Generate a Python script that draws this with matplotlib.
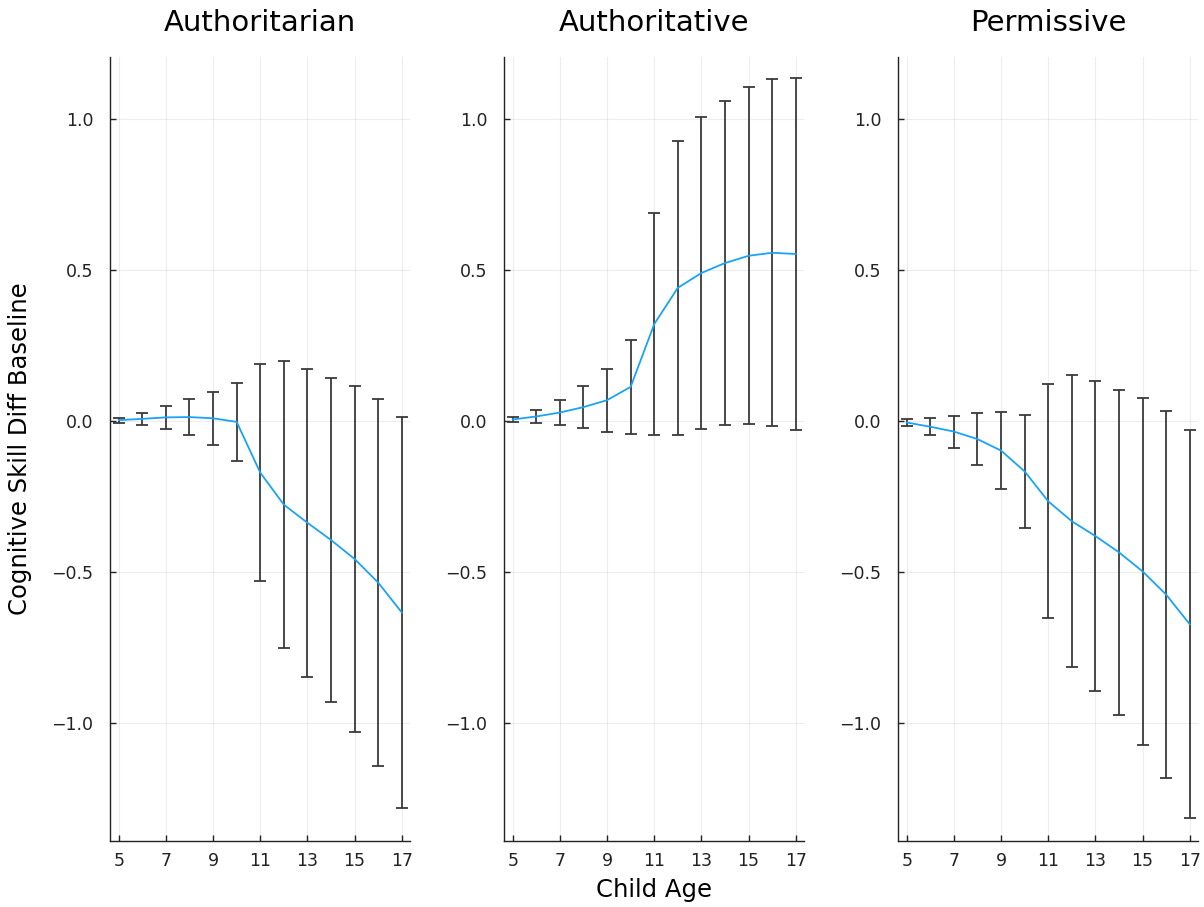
import matplotlib
matplotlib.use('Agg')
import matplotlib.pyplot as plt
import numpy as np

# child ages on the x axis
ages = [5, 6, 7, 8, 9, 10, 11, 12, 13, 14, 15, 16, 17]

titles = ['Authoritarian', 'Authoritative', 'Permissive']

# mean difference from baseline
authoritarian_mean = [0.002, 0.006, 0.011, 0.012, 0.008, -0.004, -0.172, -0.278, -0.338, -0.395, -0.458, -0.536, -0.635]
authoritative_mean = [0.004, 0.014, 0.027, 0.045, 0.068, 0.112, 0.32, 0.44, 0.489, 0.522, 0.546, 0.556, 0.552]
permissive_mean = [-0.006, -0.02, -0.036, -0.061, -0.099, -0.168, -0.267, -0.333, -0.382, -0.436, -0.499, -0.576, -0.674]

# half width of the error bars
authoritarian_err = [0.008, 0.021, 0.039, 0.06, 0.088, 0.13, 0.36, 0.475, 0.509, 0.536, 0.574, 0.608, 0.648]
authoritative_err = [0.008, 0.022, 0.042, 0.069, 0.104, 0.155, 0.368, 0.486, 0.516, 0.535, 0.558, 0.575, 0.582]
permissive_err = [0.01, 0.029, 0.053, 0.085, 0.128, 0.188, 0.387, 0.483, 0.512, 0.538, 0.574, 0.607, 0.642]

means = [authoritarian_mean, authoritative_mean, permissive_mean]
errs = [authoritarian_err, authoritative_err, permissive_err]

fig = plt.figure(figsize=(12.04, 9.07), dpi=100)
lefts = [110 / 1204, 504 / 1204, 898 / 1204]
axes = [fig.add_axes([l, 0.0733, 0.2492, 0.8638]) for l in lefts]

for ax, title, m, e in zip(axes, titles, means, errs):
    ax.errorbar(ages, m, yerr=e, fmt='none', ecolor='#3a3a3a', elinewidth=1.3,
                capsize=4.5, capthick=1.3, zorder=2)
    ax.plot(ages, m, color='#1AA3F5', linewidth=1.3, zorder=3)
    ax.set_title(title, fontsize=21, pad=19)
    ax.set_xlim(4.63, 17.35)
    ax.set_ylim(-1.39, 1.204)
    ax.set_xticks([5, 7, 9, 11, 13, 15, 17])
    ax.set_yticks([-1.0, -0.5, 0.0, 0.5, 1.0])
    ax.set_yticklabels(['\u22121.0', '\u22120.5', '0.0', '0.5', '1.0'])
    ax.grid(True, color='black', alpha=0.07, linewidth=0.8)
    ax.set_axisbelow(True)
    for s in ['top', 'right']:
        ax.spines[s].set_visible(False)
    for s in ['left', 'bottom']:
        ax.spines[s].set_color('#222222')
        ax.spines[s].set_linewidth(1.0)
    ax.tick_params(axis='both', direction='in', length=4, width=1.0, labelsize=12.5, colors='#222222')
    ax.tick_params(axis='y', pad=12)
    ax.tick_params(axis='x', pad=8)

axes[0].set_ylabel('Cognitive Skill Diff Baseline', fontsize=17.5, labelpad=14)
axes[1].set_xlabel('Child Age', fontsize=17.5, labelpad=6)

plt.savefig('out.png', dpi=100)
